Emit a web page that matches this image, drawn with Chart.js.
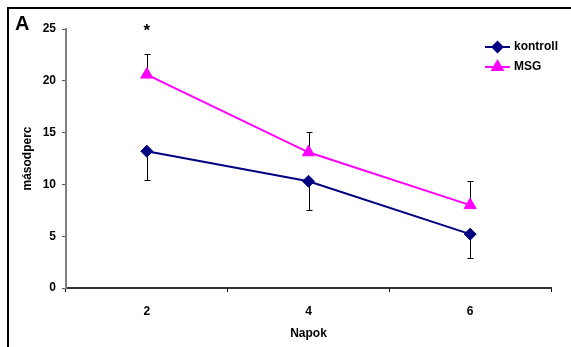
<!DOCTYPE html>
<html>
<head>
<meta charset="utf-8">
<script src="https://cdn.jsdelivr.net/npm/chart.js@4/dist/chart.umd.min.js"></script>
<style>
  html, body { margin: 0; padding: 0; background: #fff; }
  #wrap { width: 571px; height: 347px; }
</style>
</head>
<body>
<div id="wrap"><canvas id="napokChart" width="571" height="347"></canvas></div>
<script>
// adatok
var napok = ['2', '4', '6'];
var kontroll = [13.2, 10.3, 5.2];
var kontrollHiba = [2.8, 2.8, 2.3];   // lefelé
var msg = [20.6, 13.1, 8.0];
var msgHiba = [2.0, 2.0, 2.3];        // felfelé
var szignif = ['*', '', ''];

var FONT = "'Liberation Sans', Arial, sans-serif";

// hibasávok, keret, jelmagyarázat
var rajzolo = {
    id: 'rajzolo',
    beforeDraw: function (chart) {
        var ctx = chart.ctx;
        ctx.save();
        ctx.fillStyle = '#fff';
        ctx.fillRect(0, 0, chart.width, chart.height);
        ctx.strokeStyle = '#000';
        ctx.lineWidth = 2;
        ctx.beginPath();
        ctx.moveTo(8, chart.height);
        ctx.lineTo(8, 8);
        ctx.lineTo(chart.width, 8);
        ctx.stroke();
        ctx.fillStyle = '#000';
        ctx.font = 'bold 20px ' + FONT;
        ctx.textBaseline = 'alphabetic';
        ctx.fillText('A', 15, 30);
        ctx.restore();
    },
    beforeDatasetsDraw: function (chart) {
        var ctx = chart.ctx;
        var x = chart.scales.x, y = chart.scales.y;
        ctx.save();
        ctx.strokeStyle = '#000';
        ctx.lineWidth = 1;
        function sav(px, v0, v1) {
            var a = Math.round(y.getPixelForValue(v0)) + 0.5;
            var b = Math.round(y.getPixelForValue(v1)) + 0.5;
            var cx = Math.round(px) + 0.5;
            ctx.beginPath();
            ctx.moveTo(cx, a); ctx.lineTo(cx, b);
            ctx.moveTo(cx - 3, b); ctx.lineTo(cx + 3, b);
            ctx.stroke();
        }
        for (var i = 0; i < napok.length; i++) {
            var px = x.getPixelForValue(i);
            sav(px, kontroll[i], kontroll[i] - kontrollHiba[i]);
            sav(px, msg[i], msg[i] + msgHiba[i]);
        }
        ctx.restore();
    },
    afterDraw: function (chart) {
        var ctx = chart.ctx;
        var x = chart.scales.x, y = chart.scales.y;
        var area = chart.chartArea;
        ctx.save();
        ctx.fillStyle = '#000';
        ctx.font = 'bold 17px ' + FONT;
        ctx.textAlign = 'center';
        ctx.textBaseline = 'alphabetic';
        for (var i = 0; i < szignif.length; i++) {
            if (szignif[i]) ctx.fillText(szignif[i], x.getPixelForValue(i), y.getPixelForValue(25) + 7);
        }
        // jelmagyarázat
        var lx = area.right - 66;
        var ly = 47;
        chart.data.datasets.forEach(function (ds, k) {
            var yy = ly + k * 20;
            ctx.strokeStyle = ds.borderColor;
            ctx.lineWidth = 2;
            ctx.beginPath();
            ctx.moveTo(lx, yy); ctx.lineTo(lx + 25, yy);
            ctx.stroke();
            Chart.helpers.drawPoint(ctx, {
                pointStyle: ds.pointStyle,
                radius: ds.pointRadius - 1,
                borderWidth: 1
            }, lx + 12.5, yy);
            ctx.fillStyle = ds.pointBackgroundColor;
            ctx.fill();
            ctx.fillStyle = '#000';
            ctx.font = 'bold 12px ' + FONT;
            ctx.textAlign = 'left';
            ctx.textBaseline = 'middle';
            ctx.fillText(ds.label, lx + 29, yy);
        });
        ctx.restore();
    }
};

new Chart('napokChart', {
    type: 'line',
    data: {
        labels: napok,
        datasets: [{
            label: 'kontroll',
            data: kontroll,
            borderColor: '#000080',
            backgroundColor: '#000080',
            pointBackgroundColor: '#000080',
            pointBorderColor: '#000080',
            pointStyle: 'rectRot',
            pointRadius: 6,
            pointBorderWidth: 1,
            borderWidth: 2,
            fill: false,
            tension: 0
        }, {
            label: 'MSG',
            data: msg,
            borderColor: '#FF00FF',
            backgroundColor: '#FF00FF',
            pointBackgroundColor: '#FF00FF',
            pointBorderColor: '#FF00FF',
            pointStyle: 'triangle',
            pointRadius: 7,
            pointBorderWidth: 1,
            borderWidth: 2,
            fill: false,
            tension: 0
        }]
    },
    options: {
        responsive: false,
        animation: false,
        events: [],
        layout: { padding: { left: 0, right: 20, top: 29, bottom: 0 } },
        plugins: {
            legend: { display: false },
            tooltip: { enabled: false }
        },
        scales: {
            x: {
                type: 'category',
                offset: true,
                grid: {
                    display: true,
                    offset: true,
                    drawOnChartArea: false,
                    drawTicks: true,
                    tickLength: 4,
                    color: '#000'
                },
                border: { display: true, color: '#333', width: 2 },
                ticks: {
                    color: '#000',
                    padding: 12,
                    font: { family: FONT, size: 12, weight: 'bold' }
                },
                title: {
                    display: true,
                    text: 'Napok',
                    color: '#000',
                    padding: { top: 6, bottom: 6 },
                    font: { family: FONT, size: 12, weight: 'bold' }
                },
                afterFit: function (s) { s.height = 59; }
            },
            y: {
                min: 0,
                max: 25,
                ticks: {
                    stepSize: 5,
                    color: '#000',
                    padding: 6,
                    font: { family: FONT, size: 12, weight: 'bold' }
                },
                grid: {
                    display: true,
                    drawOnChartArea: false,
                    drawTicks: true,
                    tickLength: 4,
                    color: '#555'
                },
                border: { display: true, color: '#808080', width: 2 },
                title: {
                    display: true,
                    text: 'másodperc',
                    color: '#000',
                    padding: { top: 20, bottom: 0 },
                    font: { family: FONT, size: 12, weight: 'bold' }
                },
                afterFit: function (s) { s.width = 66; }
            }
        }
    },
    plugins: [rajzolo]
});
</script>
</body>
</html>
